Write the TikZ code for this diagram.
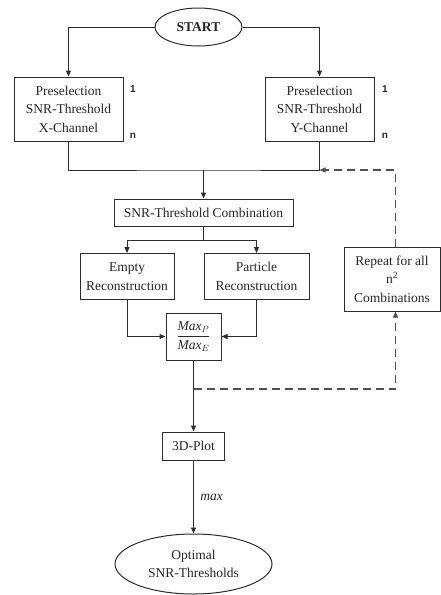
\documentclass[tikz,border=0pt]{standalone}
\usepackage{fontspec}
\setmainfont{Liberation Serif}
\newfontfamily\idxfont{Liberation Sans}
\usepackage{amsmath}
\usepackage{tikz}
\usetikzlibrary{arrows.meta}
\usetikzlibrary{shapes.geometric}
\definecolor{flowline}{RGB}{45,45,45}
\definecolor{loopgray}{RGB}{80,80,80}
\newcommand{\bodyfont}{\fontsize{13.5}{18.5}\selectfont}

\begin{document}
\begin{tikzpicture}[x=1pt,y=-1pt,
    box/.style={draw=flowline,line width=1pt,align=center,inner sep=2pt,
      font=\bodyfont,text=black!85},
    oval/.style={box,ellipse,inner sep=0pt},
    idx/.style={font=\idxfont\bfseries\fontsize{10}{11}\selectfont,text=black!85},
    link/.style={flowline,line width=1pt},
    arr/.style={link,-{Triangle[length=6pt,width=5pt]}},
    loopline/.style={loopgray,line width=1.2pt,dash pattern=on 8pt off 5pt,
      -{Triangle[length=6pt,width=5pt]}}]
    \useasboundingbox (0,0) rectangle (441,595);
    \node[oval,minimum width=87pt,minimum height=38pt,font=\bodyfont\bfseries]
      (start) at (198.5,27) {START};
    \node[box,minimum width=109pt,minimum height=64pt] (selx) at (68.5,109)
      {Preselection\\SNR-Threshold\\X-Channel};
    \node[box,minimum width=109pt,minimum height=64pt] (sely) at (319.5,109)
      {Preselection\\SNR-Threshold\\Y-Channel};
    \node[idx] (xone) at (133,89) {1};
    \node[idx] (xn) at (133,136) {n};
    \node[idx] (yone) at (385,89) {1};
    \node[idx] (yn) at (385,136) {n};
    \node[box,minimum width=179pt,minimum height=27pt] (combo) at (203.5,212.5)
      {SNR-Threshold Combination};
    \node[box,minimum width=94pt,minimum height=46pt] (empty) at (127,276.5)
      {Empty\\Reconstruction};
    \node[box,minimum width=105pt,minimum height=46pt] (particle) at (256.5,276.5)
      {Particle\\Reconstruction};
    \node[box,minimum width=55pt,minimum height=47pt] (ratio) at (193.5,336.5)
      {$\dfrac{\mathit{Max}_{P}}{\mathit{Max}_{E}}$};
    \node[box,minimum width=96pt,minimum height=64pt] (repeat) at (392,279)
      {Repeat for all\\n\textsuperscript{2}\\Combinations};
    \node[box,minimum width=62pt,minimum height=28pt] (plot3d) at (193.5,446)
      {3D-Plot};
    \node[oval,minimum width=157pt,minimum height=60pt] (optimal) at (193.5,564)
      {Optimal\\SNR-Thresholds};
    \coordinate (join) at (203.5,170);
    \coordinate (split) at (203.5,240);
    \coordinate (loop) at (193.5,389);
    \draw[arr] (start.west) -| (selx.north);
    \draw[arr] (start.east) -| (sely.north);
    \draw[link] (selx.south) |- (join) -| (sely.south);
    \draw[arr] (join) -- (combo.north);
    \draw[link] (combo.south) -- (split);
    \draw[arr] (split) -| (empty.north);
    \draw[arr] (split) -| (particle.north);
    \draw[arr] (empty.south) |- (ratio.west);
    \draw[arr] (particle.south) |- (ratio.east);
    \draw[arr] (ratio.south) -- (plot3d.north);
    \draw[loopline] (loop) -| ([xshift=3.5pt]repeat.south);
    \draw[loopline] ([xshift=3.5pt]repeat.north) |- (sely.south |- join);
    \draw[arr] (plot3d.south) -- node[right=3pt,font=\bodyfont\itshape,text=black!85]
      (maxlbl) {max} (optimal.north);
  \end{tikzpicture}
\end{document}
